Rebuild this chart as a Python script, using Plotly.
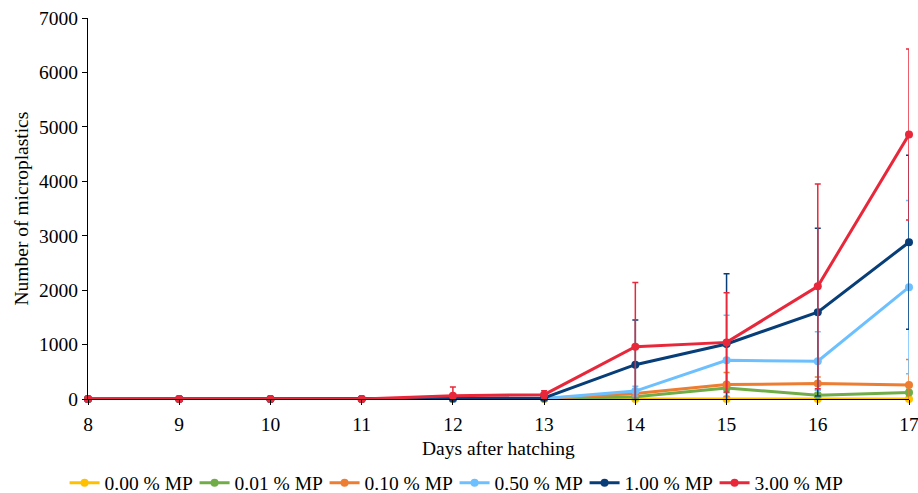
import plotly.graph_objects as go

days = [8, 9, 10, 11, 12, 13, 14, 15, 16, 17]
series_names = ["0.00 % MP", "0.01 % MP", "0.10 % MP", "0.50 % MP", "1.00 % MP", "3.00 % MP"]
colors = ["#FFC000", "#70AD47", "#ED7D31", "#6DC0FF", "#073E78", "#E8283A"]

mp_000 = [0, 0, 0, 0, 0, 0, 0, 0, 0, 0]
mp_001 = [0, 0, 0, 0, 0, 5, 40, 200, 70, 120]
mp_010 = [0, 0, 0, 0, 0, 8, 100, 265, 285, 255]
mp_050 = [0, 0, 0, 0, 0, 10, 145, 710, 695, 2055]
mp_100 = [0, 0, 0, 0, 10, 20, 630, 1010, 1595, 2880]
mp_300 = [0, 0, 0, 0, 60, 80, 960, 1040, 2070, 4860]

err_000 = [0, 0, 0, 0, 0, 0, 0, 0, 0, 0]
err_001 = [0, 0, 0, 0, 0, 5, 30, 80, 40, 60]
err_010 = [0, 0, 0, 0, 0, 10, 60, 220, 120, 470]
err_050 = [0, 0, 0, 0, 0, 10, 90, 830, 540, 1590]
err_100 = [0, 0, 0, 0, 15, 30, 820, 1290, 1540, 1600]
err_300 = [0, 0, 0, 0, 160, 70, 1180, 910, 1880, 1570]

values = [mp_000, mp_001, mp_010, mp_050, mp_100, mp_300]
errors = [err_000, err_001, err_010, err_050, err_100, err_300]

fig = go.Figure()
for name, col, v, e in zip(series_names, colors, values, errors):
    fig.add_trace(go.Scatter(
        x=days, y=v, name=name, mode="lines+markers",
        line=dict(color=col, width=3),
        marker=dict(color=col, size=8),
        error_y=dict(type="data", array=e, visible=True, color=col, thickness=1.5, width=3),
        cliponaxis=False,
    ))

font_family = "Liberation Serif, Times New Roman, serif"
fs = 19.5
fig.update_layout(
    width=918, height=493,
    margin=dict(l=88, r=9, t=18, b=94),
    paper_bgcolor="white", plot_bgcolor="white",
    font=dict(family=font_family, size=fs, color="black"),
    xaxis=dict(
        range=[8, 17], tickmode="array", tickvals=days, ticktext=[str(d) for d in days],
        showgrid=False, zeroline=False, showline=True, linecolor="black", linewidth=1,
        ticks="outside", ticklen=5, tickcolor="black", automargin=False,
        ticklabeloverflow="allow", ticklabelstandoff=3,
    ),
    yaxis=dict(
        range=[0, 7000], dtick=1000, showgrid=False, zeroline=False,
        showline=True, linecolor="black", linewidth=1,
        ticks="outside", ticklen=5, tickcolor="black", automargin=False,
        ticklabeloverflow="allow",
    ),
    legend=dict(
        orientation="h", x=0.4465, xanchor="center",
        yref="container", y=0.0203, yanchor="middle",
        font=dict(size=fs), entrywidth=85, entrywidthmode="pixels",
        bgcolor="rgba(0,0,0,0)",
    ),
    annotations=[
        dict(text="Days after hatching", xref="paper", yref="paper", x=0.5, y=0,
             xanchor="center", yanchor="middle", yshift=-49, showarrow=False,
             font=dict(size=fs)),
        dict(text="Number of microplastics", xref="paper", yref="paper", x=0, y=0.5,
             xanchor="center", yanchor="middle", xshift=-67, textangle=-90, showarrow=False,
             font=dict(size=fs)),
    ],
    showlegend=True,
)

fig.write_html(
    "out.html",
    config={"displayModeBar": False},
    post_script="document.body.style.margin='0';document.body.style.overflow='hidden';",
)
